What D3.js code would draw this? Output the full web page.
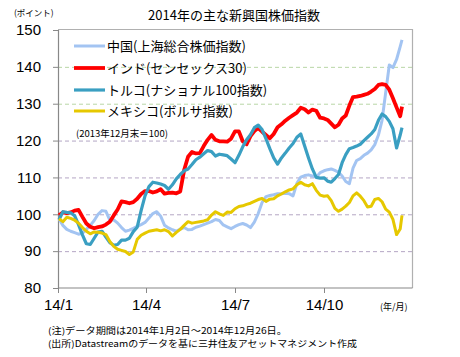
<!DOCTYPE html>
<html><head><meta charset="utf-8">
<script src="https://cdn.jsdelivr.net/npm/d3@7"></script>
<style>body{margin:0;background:#fff} svg{display:block}</style>
</head><body><svg id="c" width="460" height="357"></svg>
<script>
// ---- data ----
const dates = ["01-02","01-06","01-10","01-14","01-18","01-22","01-26","01-30","02-03","02-07","02-11","02-15","02-19","02-23","02-27","03-03","03-07","03-11","03-15","03-19","03-23","03-27","03-31","04-04","04-08","04-12","04-16","04-20","04-24","04-28","05-02","05-06","05-10","05-14","05-18","05-22","05-26","05-30","06-03","06-07","06-11","06-15","06-19","06-23","06-27","07-01","07-05","07-09","07-13","07-17","07-21","07-25","07-29","08-02","08-06","08-10","08-14","08-18","08-22","08-26","08-30","09-03","09-07","09-11","09-15","09-19","09-23","09-27","10-01","10-05","10-09","10-13","10-17","10-21","10-25","10-29","11-02","11-06","11-10","11-14","11-18","11-22","11-26","11-30","12-04","12-08","12-12","12-16","12-20","12-24","12-26"];
const china = [98.7,97,95.9,95.4,95,94.6,94.9,95.9,97,98.3,100,101,100.8,98.4,98.5,97.6,96.4,95.4,95.7,96.2,96.7,97.2,97.8,99,100.2,100.7,99.5,97,96.3,95.8,95.4,96,96.4,95.8,95.9,96.5,96.8,97.2,97.6,98,98.6,98.3,97.1,96.6,96.1,96.7,97.2,97.5,97.1,96.4,97.9,100.2,103.2,104.8,105.1,105.3,105.6,105.6,105.7,105.6,105,108.4,110.1,110.5,110.7,110.4,110,111.3,111.8,112.1,112.3,111.9,111.4,110.4,108.9,108.3,112.5,114.6,115.1,116,116.6,117.5,118.9,121.5,125.5,133,140.5,139.8,142,145.5,147.3];
const india = [99.7,100.5,100.3,100.5,101,101.2,99.3,97.5,96.6,96.2,96.5,96.7,97.2,98,99.7,101.3,103.5,103.3,103,103.3,104.2,105.5,106.3,106.3,105.9,106.2,106.8,105.6,105.8,105.9,105.7,106.2,112,115.6,116.9,116.5,116.6,118.5,120.2,121.5,120.2,119.8,119.8,119.7,120.5,122.5,122.5,119.8,119,121.2,122.6,123.4,122.4,121.5,120.6,121.8,123.6,124.4,125.4,126.2,126.9,127.6,128.9,128.5,127.6,128.4,128.1,126.2,126,125.6,124.6,123.6,124.3,126,126.8,129.5,131.8,131.9,132.1,132.4,132.7,133.3,134,135.1,135.3,135.1,133.8,131.5,129,126.6,129.2];
const turkey = [98.5,100.7,100.5,100.4,99.6,97.2,94.4,92,91.8,93.5,95.2,95.4,93.8,92.3,91.6,91.8,93,93,93.5,95.3,96.5,101,105,107.5,108.7,108.5,108.2,107.8,106.8,108,109.6,110.8,111.8,112.3,113.5,114.8,115.5,116.4,117.3,117,115.8,116.3,116.1,115.9,115,114,116,118.3,120.2,121.6,123.5,124.2,123,120.5,117.8,115.3,113.6,115.3,116.6,118,119.2,120.9,121.8,118.5,115.3,112.3,110,109.8,109.9,109,108.7,109.7,110.8,114,116.2,117.8,118.1,118.5,119,120,120.9,121.8,123,125.5,127.2,126.5,125.2,123.2,118,121.5,123.5];
const mexico = [98.8,98,99.2,98.9,98.4,97.6,96.4,95.4,94.7,95.2,95.1,94.9,94.5,92.6,91.3,90.5,90.2,89.9,89.1,89.8,93.2,94.3,94.9,95.4,95.6,95.8,95.5,95.8,95.3,94.1,95.1,95.9,97,98,97.6,97.8,98,98.2,98.5,99.8,100.7,100.1,99.7,100.6,100.5,101.5,102.1,102.3,102.7,103,103.5,104,104.3,103.5,104.1,104.2,105,105.5,106.1,106.6,106.9,108,108.7,108,107.7,108.3,106.5,105.2,104.9,105,103.7,101.6,100.8,101.4,102.2,103.2,105,105.8,104.9,103.7,102,102.2,104,104.3,103.4,101.4,100.6,98.6,94.5,96,99.7];
const seriesNames = ["中国(上海総合株価指数)","インド(センセックス30)","トルコ(ナショナル100指数)","メキシコ(ボルサ指数)"];
const seriesColors = ["#a3c4f2","#ff0000","#3a9fc2","#e6c800"];
const yTicks = [80,90,100,110,120,130,140,150];
const xTickDates = ["01-01","04-01","07-01","10-01"];
const xTickLabels = ["14/1","14/4","14/7","14/10"];
const titleText = "2014年の主な新興国株価指数";
const unitText = "(ポイント)";
const xUnitText = "(年/月)";
const baseNote = "(2013年12月末＝100)";
const notes = ["(注)データ期間は2014年1月2日～2014年12月26日。","(出所)Datastreamのデータを基に三井住友アセットマネジメント作成"];

// ---- drawing ----
const parse = s => d3.timeParse("%Y-%m-%d")("2014-" + s);
const svg = d3.select("#c");
const JP = "'Noto Sans CJK JP','Noto Sans',sans-serif";
const L = 58, R = 412.5, T = 30, B = 288;

const x = d3.scaleTime()
  .domain(["01-01","04-01","07-01","10-01","12-26"].map(parse))
  .range([58,146,235,324,402]);
const y = d3.scaleLinear().domain([80,150]).range([B,T]);

// grid
svg.append("g").selectAll("line").data(yTicks.filter(v => v > 80 && v < 150)).join("line")
  .attr("x1", L).attr("x2", R).attr("y1", d => y(d)+0.5).attr("y2", d => y(d)+0.5)
  .attr("stroke", d => d >= 130 ? "#b9d6a6" : "#b4a6c4").attr("stroke-width", 1)
  .attr("stroke-dasharray", "4,3");

// frame (top/right)
svg.append("path").attr("d", `M${L},${T-0.5}H${R}V${B}`).attr("fill","none")
  .attr("stroke","#b0b0b0").attr("stroke-width",1.2);

// y axis
const yAxis = d3.axisLeft(y).tickValues(yTicks).tickSize(5).tickPadding(12).tickFormat(d3.format("d"));
const gy = svg.append("g").attr("transform", `translate(${L},0)`).call(yAxis);
gy.select(".domain").attr("stroke","#888").attr("stroke-width",1.2);
gy.selectAll(".tick line").attr("stroke","#888");
gy.selectAll(".tick text").attr("font-family","'Liberation Sans',Arial,sans-serif").attr("font-size",15).attr("fill","#000");

// x axis
const xAxis = d3.axisBottom(x).tickValues(xTickDates.map(parse)).tickSize(5).tickPadding(6)
  .tickFormat((d,i) => xTickLabels[i]);
const gx = svg.append("g").attr("transform", `translate(0,${B})`).call(xAxis);
gx.select(".domain").attr("d", `M${L},0H${R}`).attr("stroke","#888").attr("stroke-width",1.2);
gx.selectAll(".tick line").attr("stroke","#888");
gx.selectAll(".tick text").attr("font-family","'Liberation Sans',Arial,sans-serif").attr("font-size",15).attr("fill","#000");

// series
const allSeries = [china, india, turkey, mexico];
const widths = [3, 3.8, 3.2, 3];
const line = d3.line().x((d,i) => x(parse(dates[i]))).y(d => y(d)).curve(d3.curveLinear);
svg.append("g").selectAll("path").data(allSeries).join("path")
  .attr("d", d => line(d)).attr("fill","none")
  .attr("stroke", (d,i) => seriesColors[i]).attr("stroke-width", (d,i) => widths[i])
  .attr("stroke-linejoin","round");

// legend
const legY = [46, 68, 90, 111];
const lg = svg.append("g");
seriesNames.forEach((n,i) => {
  lg.append("line").attr("x1",74).attr("x2",105).attr("y1",legY[i]).attr("y2",legY[i])
    .attr("stroke", seriesColors[i]).attr("stroke-width", widths[i]);
  lg.append("text").attr("x",107).attr("y",legY[i]+5).text(n)
    .attr("font-family",JP).attr("font-size",13).attr("fill","#000");
});
svg.append("text").attr("x",76).attr("y",137).text(baseNote)
  .attr("font-family",JP).attr("font-size",9.5).attr("fill","#000");

// titles
svg.append("text").attr("x",234).attr("y",20).attr("text-anchor","middle").text(titleText)
  .attr("font-family",JP).attr("font-size",13).attr("fill","#000");
svg.append("text").attr("x",14).attr("y",16).text(unitText)
  .attr("font-family",JP).attr("font-size",8.5).attr("fill","#000");
svg.append("text").attr("x",380).attr("y",310).text(xUnitText)
  .attr("font-family",JP).attr("font-size",9).attr("fill","#000");
const noteW = [239, 309];
notes.forEach((t,i) => {
  svg.append("text").attr("x",48).attr("y",334 + i*13).text(t)
    .attr("font-family",JP).attr("font-size",8.8).attr("fill","#000")
    .attr("textLength", noteW[i]).attr("lengthAdjust","spacingAndGlyphs");
});
</script></body></html>
